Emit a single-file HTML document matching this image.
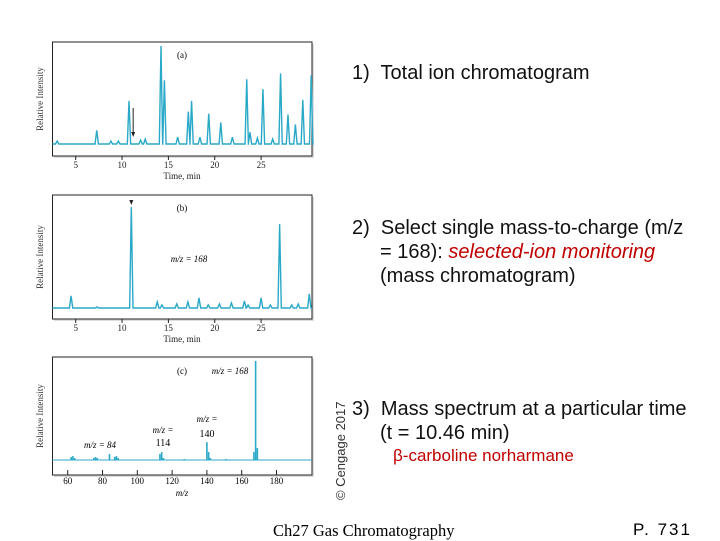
<!DOCTYPE html>
<html><head><meta charset="utf-8"><style>
body{margin:0;background:#fff;width:720px;height:540px;overflow:hidden;position:relative;font-family:"Liberation Sans",sans-serif}
.t{position:absolute;font-size:20px;color:#111;line-height:24px;white-space:nowrap}
.red{color:#c00000;font-style:italic}
</style></head><body>
<svg id="chart" width="340" height="540" style="position:absolute;left:0;top:0" font-family="Liberation Serif, serif"></svg>
<div class="t" style="left:352px;top:61px">1)&nbsp; Total ion chromatogram</div>
<div class="t" style="left:352px;top:216px">2)&nbsp; Select single mass-to-charge (m/z<br><span style="padding-left:28px">= 168): <span class="red">selected-ion monitoring</span></span><br><span style="padding-left:28px">(mass chromatogram)</span></div>
<div class="t" style="left:352px;top:397px">3)&nbsp; Mass spectrum at a particular time<br><span style="padding-left:28px">(t = 10.46 min)</span></div>
<div class="t" style="left:393px;top:444px;font-size:17px;color:#c00000">β-carboline norharmane</div>
<div style="position:absolute;left:333px;top:500px;transform:rotate(-90deg);transform-origin:0 0;font-size:13px;color:#333;white-space:nowrap">© Cengage 2017</div>
<div style="position:absolute;left:273px;top:521px;font-family:'Liberation Serif',serif;font-size:16.5px;white-space:nowrap">Ch27 Gas Chromatography</div>
<div style="position:absolute;left:633px;top:520px;font-size:17px;letter-spacing:2px;white-space:nowrap">P. 731</div>
<script>
const aTimes=[3.0,7.27,8.8,9.6,10.75,12.0,12.5,14.2,14.57,16.0,17.15,17.5,18.4,19.35,20.65,21.9,23.45,23.8,24.6,25.2,26.25,27.1,27.9,28.7,29.5,30.4];
const aHeights=[0.03,0.14,0.03,0.03,0.44,0.04,0.05,1.0,0.65,0.07,0.33,0.44,0.07,0.31,0.22,0.07,0.66,0.12,0.06,0.56,0.05,0.72,0.3,0.2,0.45,0.7];
const bTimes=[4.5,7.3,11.0,13.8,14.3,15.9,17.1,18.3,19.3,20.5,21.8,23.2,23.6,25.0,26.0,27.0,28.3,29.0,30.2];
const bHeights=[0.12,0.01,1.0,0.06,0.03,0.04,0.06,0.1,0.03,0.04,0.05,0.07,0.03,0.1,0.03,0.83,0.03,0.04,0.14];
const cMz=[62,63,64,75,76,77,84,87,88,89,113,114,115,127,140,141,142,151,167,168,169];
const cInt=[0.03,0.04,0.02,0.02,0.03,0.02,0.06,0.03,0.04,0.02,0.06,0.08,0.02,0.01,0.18,0.08,0.02,0.01,0.08,1.0,0.12];
const timeTicks=[5,10,15,20,25];
const mzTicks=[60,80,100,120,140,160,180];
const svg=document.getElementById('chart');const NS='http://www.w3.org/2000/svg';
function mk(tag,at,txt){const e=document.createElementNS(NS,tag);for(const k in at)e.setAttribute(k,at[k]);if(txt!==undefined)e.textContent=txt;svg.appendChild(e);return e;}
const teal='#2aa8c8';
function tx(t){return 75.7+(t-5)*9.27;}
function mx(m){return 67.7+(m-60)*1.74;}
function frame(top,bottom,name){
  mk('rect',{x:54,y:top+2,width:260,height:bottom-top,fill:'#ddd'});
  const b=mk('rect',{x:52.5,y:top,width:259.5,height:bottom-top,fill:'#fff',stroke:'#222','stroke-width':1});
  
  const y=mk('text',{x:0,y:0,'font-size':9,fill:'#333',transform:`translate(43,${(top+bottom)/2}) rotate(-90)`,'text-anchor':'middle'},'Relative Intensity');
  
}
function timeAxis(bottom,name){
  timeTicks.forEach(t=>{mk('line',{x1:tx(t),x2:tx(t),y1:bottom,y2:bottom+4,stroke:'#222'});
   const l=mk('text',{x:tx(t),y:bottom+12,'font-size':9,'text-anchor':'middle',fill:'#222'},t);
   });
  const t=mk('text',{x:182,y:bottom+23,'font-size':9,'text-anchor':'middle',fill:'#222'},'Time, min');
  
}
function trace(times,heights,base,scale,name){
  const pts=[];let t0=2.5;pts.push([tx(t0),base]);
  const idx=times.map((t,i)=>i).sort((a,b)=>times[a]-times[b]);
  idx.forEach(i=>{const t=times[i];const w=0.18;
    pts.push([tx(t-w),base]);pts.push([tx(t),base-heights[i]*scale]);pts.push([tx(t+w),base]);});
  pts.push([312,base]);
  const p=mk('polyline',{points:pts.map(p=>p.join(',')).join(' '),fill:'none',stroke:teal,'stroke-width':1.4});
  
}
frame(42,156,'panel-a');trace(aTimes,aHeights,144,98,'panel-a');timeAxis(156,'panel-a');
mk('text',{x:182,y:58,'font-size':9,'text-anchor':'middle'},'(a)');
mk('line',{x1:tx(11.2),x2:tx(11.2),y1:108,y2:134,stroke:'#222'});
mk('path',{d:`M${tx(11.2)-2},132 L${tx(11.2)+2},132 L${tx(11.2)},137Z`,fill:'#222'});
frame(195,319,'panel-b');trace(bTimes,bHeights,308,101,'panel-b');timeAxis(319,'panel-b');
mk('text',{x:182,y:211,'font-size':9,'text-anchor':'middle'},'(b)');
mk('text',{x:189,y:262,'font-size':9,'text-anchor':'middle','font-style':'italic'},'m/z = 168');
mk('path',{d:`M${tx(11)-2},200 L${tx(11)+2},200 L${tx(11)},205Z`,fill:'#222'});
frame(357,475,'panel-c');
mk('line',{x1:52.5,x2:312,y1:460,y2:460,stroke:teal,'stroke-width':1});
cMz.forEach((m,i)=>{const h=cInt[i]*99;const r=mk('rect',{x:mx(m)-0.8,y:460-h,width:1.6,height:h,fill:teal});
 });
mzTicks.forEach(m=>{mk('line',{x1:mx(m),x2:mx(m),y1:470,y2:475,stroke:'#222'});
 const l=mk('text',{x:mx(m),y:484,'font-size':9,'text-anchor':'middle'},m);
 });
mk('text',{x:182,y:496,'font-size':9,'text-anchor':'middle','font-style':'italic'},'m/z');
mk('text',{x:182,y:374,'font-size':9,'text-anchor':'middle'},'(c)');
mk('text',{x:230,y:374,'font-size':9,'text-anchor':'middle','font-style':'italic'},'m/z = 168');
mk('text',{x:100,y:448,'font-size':9,'text-anchor':'middle','font-style':'italic'},'m/z = 84');
mk('text',{x:163,y:433,'font-size':9,'text-anchor':'middle','font-style':'italic'},'m/z =');
mk('text',{x:163,y:446,'font-size':10,'text-anchor':'middle'},'114');
mk('text',{x:207,y:422,'font-size':9,'text-anchor':'middle','font-style':'italic'},'m/z =');
mk('text',{x:207,y:437,'font-size':10,'text-anchor':'middle'},'140');
</script>
</body></html>
